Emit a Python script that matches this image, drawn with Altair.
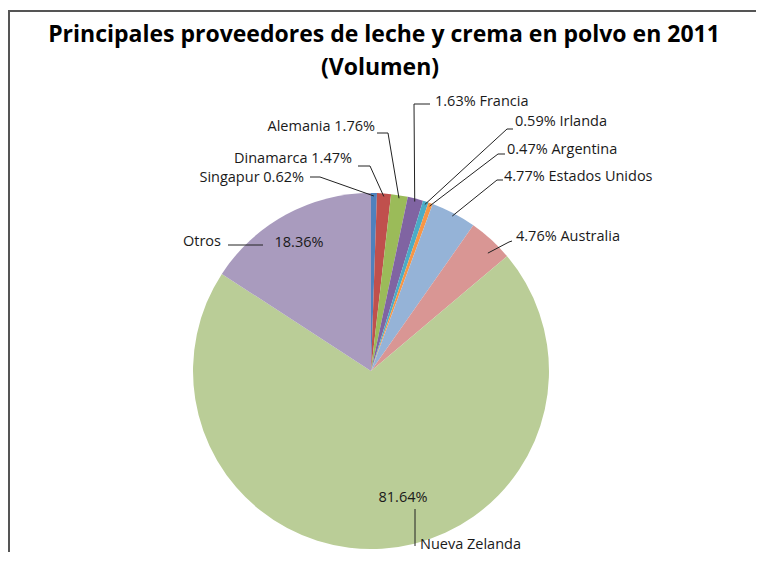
import math
import altair as alt
import pandas as pd

# ---- data ----
countries = ["Singapur", "Dinamarca", "Alemania", "Francia", "Irlanda", "Argentina",
             "Estados Unidos", "Australia", "Nueva Zelanda", "Otros"]
values = [0.62, 1.47, 1.76, 1.63, 0.59, 0.47, 4.77, 4.76, 81.64, 18.36]
colors = ["#4F81BD", "#C0504D", "#9BBB59", "#8064A2", "#4BACC6", "#F79646",
          "#95B3D7", "#D99694", "#BACD97", "#A99BBE"]
title_lines = ["Principales proveedores de leche y crema en polvo en 2011", "(Volumen)"]

# ---- layout (page pixels; converted to view pixels below) ----
OX, OY = 8, 10
W, H = 748, 542
CX, CY, R = 371 - OX, 371 - OY, 178
anchor_r = [175, 175, 175, 175, 175, 175, 175, 166, 0, 0]

# label style: "vn" = "value name" left aligned, "nv" = "name value" right aligned
label_style = ["nv", "nv", "nv", "vn", "vn", "vn", "vn", "vn", "split", "split"]
label_xy = [(304, 178), (352, 159), (375, 127), (435, 102), (515, 122), (507, 150),
            (504, 177), (516, 237), (420, 545), (221, 242)]
inner_value_xy = {8: (403, 498), 9: (299, 243)}
leader_pts = [[(310, 177), (320, 177)], [(358, 166), (370, 166)], [(377, 133), (388, 133)],
              [(430, 104), (414, 104)], [(513, 129), (507, 129)], [(505, 154), (498, 154)],
              [(503, 180), (497, 180)], [(512, 241), (509, 242)],
              [(415, 546), (415, 509)], [(228, 245), (263, 245)]]

# ---- tables ----
pie_df = pd.DataFrame({"pais": countries, "valor": values, "orden": list(range(len(countries)))})

total = sum(values)
cum = 0.0
label_rows, line_rows = [], []
for i, (c, v) in enumerate(zip(countries, values)):
    mid = (cum + v / 2) / total * 2 * math.pi
    cum += v
    pct = f"{v:.2f}%"
    lx, ly = label_xy[i]
    st = label_style[i]
    if st == "nv":
        label_rows.append({"t": f"{c} {pct}", "x": lx - OX, "y": ly - OY, "a": "right"})
    elif st == "vn":
        label_rows.append({"t": f"{pct} {c}", "x": lx - OX, "y": ly - OY, "a": "left"})
    else:
        vx, vy = inner_value_xy[i]
        label_rows.append({"t": c, "x": lx - OX, "y": ly - OY, "a": "left" if i == 8 else "right"})
        label_rows.append({"t": pct, "x": vx - OX, "y": vy - OY, "a": "center"})
    pts = [(px - OX, py - OY) for px, py in leader_pts[i]]
    if st != "split":
        if i == 7:
            mid += 0.04
        pts.append((CX + anchor_r[i] * math.sin(mid), CY - anchor_r[i] * math.cos(mid)))
    for k, (px, py) in enumerate(pts):
        line_rows.append({"pais": c, "k": k, "x": px, "y": py})

label_df = pd.DataFrame(label_rows)
line_df = pd.DataFrame(line_rows)
title_df = pd.DataFrame({"t": title_lines, "x": [384 - OX, 380 - OX], "y": [35 - OY, 68 - OY]})
one = pd.DataFrame({"a": [0]})

pie = alt.Chart(pie_df).mark_arc(radius=R).encode(
    theta=alt.Theta("valor:Q", stack=True),
    color=alt.Color("pais:N", scale=alt.Scale(domain=countries, range=colors), legend=None),
    order=alt.Order("orden:Q"),
    x=alt.value(CX),
    y=alt.value(CY),
)

leaders = alt.Chart(line_df).mark_line(color="#222222", strokeWidth=1).encode(
    x=alt.X("x:Q", scale=None),
    y=alt.Y("y:Q", scale=None),
    detail="pais:N",
    order="k:Q",
)

def text_layer(align):
    return alt.Chart(label_df).transform_filter(alt.datum.a == align).mark_text(
        align=align, baseline="middle", font="Open Sans", fontSize=14.5, color="#1a1a1a"
    ).encode(x=alt.X("x:Q", scale=None), y=alt.Y("y:Q", scale=None), text="t:N")

title = alt.Chart(title_df).mark_text(
    align="center", baseline="middle", font="Open Sans", fontSize=23, fontWeight="bold", color="#000000"
).encode(x=alt.X("x:Q", scale=None), y=alt.Y("y:Q", scale=None), text="t:N")

frame = alt.Chart(one).mark_rect(filled=False, stroke="#555555", strokeWidth=2).encode(
    x=alt.value(1), x2=alt.value(W + 20), y=alt.value(1), y2=alt.value(H + 20))

chart = alt.layer(
    pie, leaders, text_layer("left"), text_layer("right"), text_layer("center"),
    title, frame
).properties(
    width=W, height=H,
    padding={"left": 0, "top": OY - 8, "right": 0, "bottom": 0},
    autosize=alt.AutoSizeParams(type="none"),
).configure_view(strokeWidth=0)

chart.save("out.html", embed_options={"renderer": "svg", "actions": False})
